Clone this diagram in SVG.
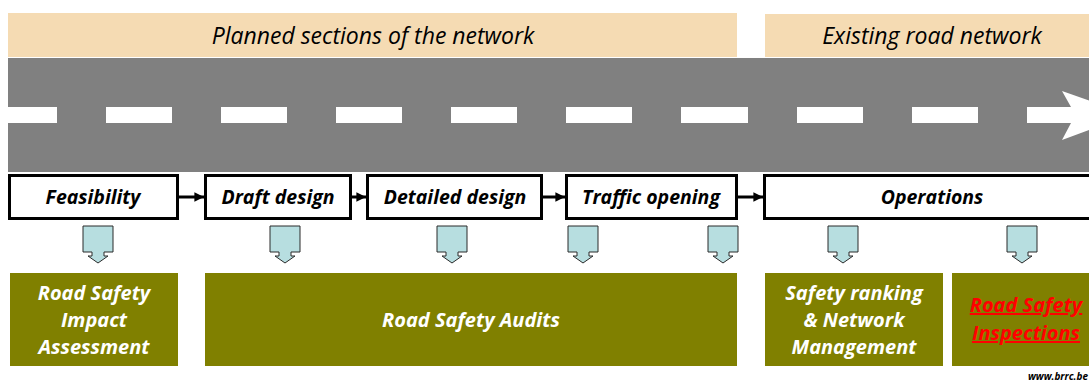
<svg xmlns="http://www.w3.org/2000/svg" width="1089" height="381" viewBox="0 0 1089 381">
  <style>
    .banner { fill: #F5DBB3; }
    .banner-text { font-family: "Open Sans", Lato, sans-serif; font-style: italic; font-size: 23px; fill: #000; text-anchor: middle; }
    .stage rect { fill: #fff; stroke: #000; stroke-width: 3; }
    .stage text { font-family: "Open Sans", Lato, sans-serif; font-style: italic; font-weight: bold; font-size: 19.5px; fill: #000; text-anchor: middle; }
    .tool rect { fill: #808000; }
    .tool text { font-family: "Open Sans", Lato, sans-serif; font-style: italic; font-weight: bold; font-size: 20px; fill: #fff; text-anchor: middle; }
    .tool text.link { fill: #FF0000; text-decoration: underline; }
    .drop { fill: #B7DEE0; stroke: #2b2b2b; stroke-width: 1; }
    .flow { stroke: #000; stroke-width: 3; fill: none; marker-end: url(#head); }
    .dash { fill: #fff; }
  </style>
  <defs>
    <marker id="head" viewBox="0 0 10 10" refX="10" refY="5" markerWidth="3.2" markerHeight="3.2" orient="auto" markerUnits="strokeWidth">
      <path d="M0,0 L10,5 L0,10 z" fill="#000"/>
    </marker>
    <!-- small block arrow pointing down, centred on x=0 -->
    <path id="drop" d="M-15,0 H15 V26 H6 V30 H10 L0,37 L-10,30 H-6 V26 H-15 Z"/>
  </defs>

  <!-- header bands -->
  <g id="planned-band">
    <rect class="banner" x="8" y="13" width="729" height="44"/>
    <text class="banner-text" x="373" y="44">Planned sections of the network</text>
  </g>
  <g id="existing-band">
    <rect class="banner" x="765" y="14" width="324" height="43"/>
    <text class="banner-text" x="932" y="44">Existing road network</text>
  </g>

  <!-- road with centre markings -->
  <g id="road">
    <rect x="8" y="58" width="1081" height="114" fill="#808080"/>
    <rect class="dash" x="8" y="107" width="49" height="16"/>
    <rect class="dash" x="106" y="107" width="66" height="16"/>
    <rect class="dash" x="221" y="107" width="66" height="16"/>
    <rect class="dash" x="336" y="107" width="66" height="16"/>
    <rect class="dash" x="451" y="107" width="66" height="16"/>
    <rect class="dash" x="566" y="107" width="66" height="16"/>
    <rect class="dash" x="681" y="107" width="67" height="16"/>
    <rect class="dash" x="797" y="107" width="66" height="16"/>
    <rect class="dash" x="912" y="107" width="66" height="16"/>
    <polygon class="dash" points="1027,107 1071,107 1062,91 1130,115 1062,140 1071,123 1027,123"/>
  </g>

  <!-- life-cycle stages -->
  <g id="stage-feasibility" class="stage">
    <rect x="9.5" y="175.5" width="168" height="43"/>
    <text x="93" y="204">Feasibility</text>
  </g>
  <g id="stage-draft" class="stage">
    <rect x="205.5" y="175.5" width="145" height="43"/>
    <text x="278" y="204">Draft design</text>
  </g>
  <g id="stage-detailed" class="stage">
    <rect x="367.5" y="175.5" width="174" height="43"/>
    <text x="455" y="204">Detailed design</text>
  </g>
  <g id="stage-opening" class="stage">
    <rect x="566.5" y="175.5" width="170" height="43"/>
    <text x="651" y="204">Traffic opening</text>
  </g>
  <g id="stage-operations" class="stage">
    <rect x="764.5" y="175.5" width="340" height="43"/>
    <text x="932" y="204">Operations</text>
  </g>

  <!-- flow between stages -->
  <g id="connectors">
    <line class="flow" x1="179" y1="197" x2="204" y2="197"/>
    <line class="flow" x1="352" y1="197" x2="366" y2="197"/>
    <line class="flow" x1="543" y1="197" x2="565" y2="197"/>
    <line class="flow" x1="738" y1="197" x2="763" y2="197"/>
  </g>

  <!-- drops from stages to tools -->
  <g id="drops">
    <use href="#drop" class="drop" x="98" y="226"/>
    <use href="#drop" class="drop" x="285" y="226"/>
    <use href="#drop" class="drop" x="452" y="226"/>
    <use href="#drop" class="drop" x="583" y="226"/>
    <use href="#drop" class="drop" x="723" y="226"/>
    <use href="#drop" class="drop" x="843" y="226"/>
    <use href="#drop" class="drop" x="1022" y="226"/>
  </g>

  <!-- safety tools -->
  <g id="tool-rsia" class="tool">
    <rect x="10" y="273" width="168" height="93"/>
    <text x="94" y="300">Road Safety</text>
    <text x="94" y="327">Impact</text>
    <text x="94" y="354">Assessment</text>
  </g>
  <g id="tool-rsa" class="tool">
    <rect x="205" y="273" width="532" height="93"/>
    <text x="471" y="327">Road Safety Audits</text>
  </g>
  <g id="tool-ranking" class="tool">
    <rect x="765" y="273" width="178" height="93"/>
    <text x="854" y="300">Safety ranking</text>
    <text x="854" y="327">&amp; Network</text>
    <text x="854" y="354">Management</text>
  </g>
  <g id="tool-rsi" class="tool">
    <rect x="952" y="273" width="137" height="93"/>
    <text class="link" x="1026" y="312">Road Safety</text>
    <text class="link" x="1026" y="340">Inspections</text>
  </g>

  <text x="1088" y="380" font-family="'Open Sans', Lato, sans-serif" font-style="italic" font-weight="bold" font-size="10" text-anchor="end" fill="#000">www.brrc.be</text>
</svg>
